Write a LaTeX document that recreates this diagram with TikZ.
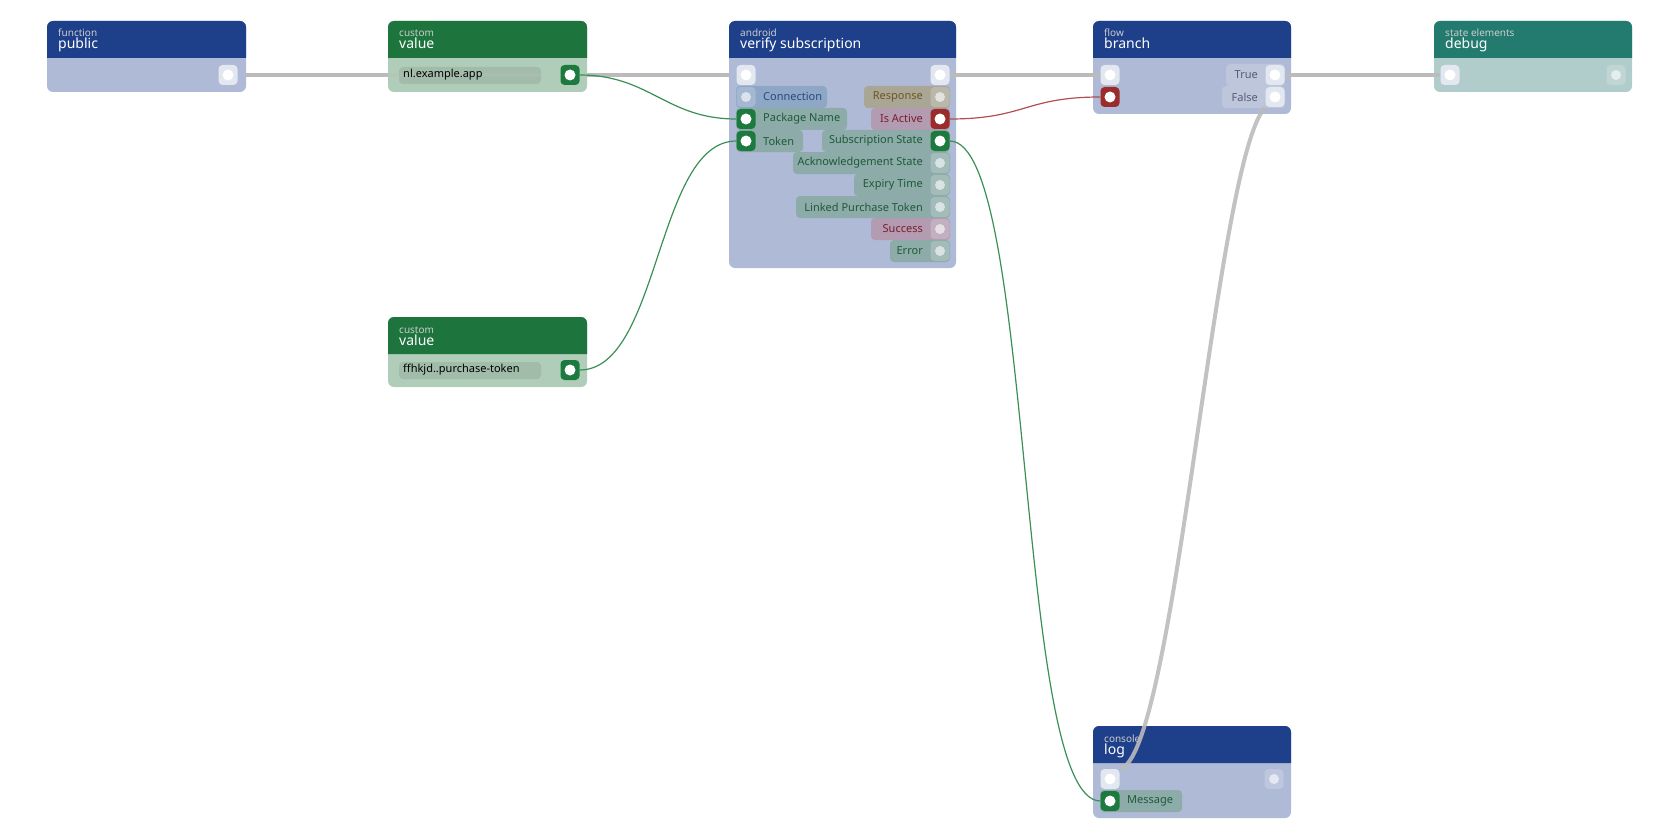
\documentclass[tikz,border=0pt]{standalone}
\usepackage{fontspec}
\setmainfont{Noto Sans}
\begin{document}
\definecolor{hblue}{HTML}{1E3F8A}\definecolor{bblue}{HTML}{AEBAD6}
\definecolor{hgreen}{HTML}{1D753D}\definecolor{bgreen}{HTML}{AFCDB8}
\definecolor{hteal}{HTML}{237B6F}\definecolor{bteal}{HTML}{B0CCCB}
\definecolor{pgreen}{HTML}{1C7A3E}\definecolor{pred}{HTML}{9C2B2B}
\definecolor{cgreen}{HTML}{8DABA8}\definecolor{tgreen}{HTML}{1E5A38}
\definecolor{cblue}{HTML}{8EA7C6}\definecolor{tblue}{HTML}{2B4A7A}
\definecolor{cbrown}{HTML}{A9A696}\definecolor{tbrown}{HTML}{6E5720}
\definecolor{cred}{HTML}{B39BB1}\definecolor{tred}{HTML}{7A1E2C}
\definecolor{cgray}{HTML}{BEC6DC}\definecolor{tgray}{HTML}{555C70}
\definecolor{wport}{HTML}{E3E7F0}
\definecolor{exec}{HTML}{BBBBBB}\definecolor{wgreen}{HTML}{3A8F55}\definecolor{wred}{HTML}{B04E52}
\tikzset{
 port/.style={rectangle,rounded corners=4,minimum width=19pt,minimum height=20pt,inner sep=0pt,fill=#1},
 wport/.style={port=wport,path picture={\fill[white](path picture bounding box.center) circle (5.5);}},
 gport/.style={port=pgreen,path picture={\fill[white](path picture bounding box.center) circle (5.5);}},
 rport/.style={port=pred,path picture={\fill[white](path picture bounding box.center) circle (5.5);}},
 fport/.style={port=white,fill opacity=0.2,path picture={\fill[white,fill opacity=0.6](path picture bounding box.center) circle (5);}},
 lbl/.style={font=\fontsize{11}{12}\selectfont,inner sep=0pt},
 ttl/.style={font=\fontsize{14}{15}\selectfont,text=white,anchor=base west,inner sep=0pt},
 sub/.style={font=\fontsize{10}{11}\selectfont,text=white!80!black,anchor=base west,inner sep=0pt},
 ex/.style={exec,line width=4pt},
 gw/.style={wgreen,line width=1.2pt},
 rw/.style={wred,line width=1.2pt},
}
\newcommand\card[9]{%
 \fill[#7,rounded corners=6] (#1,#2) rectangle (#3,#5);
 \fill[#6] (#1,#4) [rounded corners=6]-- (#1,#2) -- (#3,#2) [sharp corners]-- (#3,#4) -- cycle;
 \node[sub] at (#1+11,#2+16) {#8};
 \node[ttl] at (#1+11,#2+28) {#9};}
\newcommand\lchip[8]{%
 \fill[#5,rounded corners=4] (#2-10,#3-11) rectangle (#4,#3+11);
 \node[#7] (#1) at (#2,#3) {};
 \node[lbl,text=#6,anchor=west] at (#2+17,#3) {#8};}
\newcommand\rchip[8]{%
 \fill[#5,rounded corners=4] (#4,#3-11) rectangle (#2+10,#3+11);
 \node[#7] (#1) at (#2,#3) {};
 \node[lbl,text=#6,anchor=east] at (#2-17,#3) {#8};}
\begin{tikzpicture}[x=1pt,y=-1pt]
\useasboundingbox (0,0) rectangle (1680,840);
\coordinate (pubO) at (228,75);
\coordinate (verIn) at (746,75);
\draw[ex] (pubO) -- (verIn);
\card{47}{21}{246}{58}{92}{hblue}{bblue}{function}{public}
\node[wport] (pubout) at (228,75) {};
\card{388}{21}{587}{58}{92}{hgreen}{bgreen}{custom}{value}
\fill[black,opacity=0.08,rounded corners=4] (399,67) rectangle (541,84);
\draw[exec,line width=4pt,opacity=0.35] (388,75) -- (541,75);
\node[lbl,anchor=west] at (403,75) {nl.example.app};
\node[gport] (v1) at (570,75) {};
\card{388}{317}{587}{354}{387}{hgreen}{bgreen}{custom}{value}
\fill[black,opacity=0.08,rounded corners=4] (399,362) rectangle (541,379);
\node[lbl,anchor=west] at (403,370) {ffhkjd..purchase-token};
\node[gport] (v2) at (570,370) {};
\card{729}{21}{956}{58}{268}{hblue}{bblue}{android}{verify subscription}
\node[wport] (vin) at (746,75) {};
\node[wport] (vout) at (940,75) {};
\lchip{conn}{746}{97}{827}{cblue}{tblue}{fport}{Connection}
\lchip{pkg}{746}{119}{847}{cgreen}{tgreen}{gport}{Package Name}
\lchip{tok}{746}{141}{803}{cgreen}{tgreen}{gport}{Token}
\rchip{resp}{940}{97}{864}{cbrown}{tbrown}{fport}{Response}
\rchip{act}{940}{119}{871}{cred}{tred}{rport}{Is Active}
\rchip{sst}{940}{141}{822}{cgreen}{tgreen}{gport}{Subscription State}
\rchip{ack}{940}{163}{793}{cgreen}{tgreen}{fport}{Acknowledgement State}
\rchip{exp}{940}{185}{854}{cgreen}{tgreen}{fport}{Expiry Time}
\rchip{lpt}{940}{207}{796}{cgreen}{tgreen}{fport}{Linked Purchase Token}
\rchip{suc}{940}{229}{871}{cred}{tred}{fport}{Success}
\rchip{err}{940}{251}{890}{cgreen}{tgreen}{fport}{Error}
\card{1093}{21}{1291}{58}{114}{hblue}{bblue}{flow}{branch}
\node[wport] (bin) at (1110,75) {};
\node[rport] (bcond) at (1110,97) {};
\rchip{btrue}{1275}{75}{1226}{cgray}{tgray}{wport}{True}
\rchip{bfalse}{1275}{97}{1222}{cgray}{tgray}{wport}{False}
\card{1434}{21}{1632}{58}{92}{hteal}{bteal}{state elements}{debug}
\node[wport] (din) at (1450,75) {};
\node[fport] (dout) at (1616,75) {};
\card{1093}{726}{1291}{763}{818}{hblue}{bblue}{console}{log}
\node[wport] (lin) at (1110,779) {};
\node[fport] (lout) at (1274,779) {};
\lchip{msg}{1110}{801}{1182}{cgreen}{tgreen}{gport}{Message}
\draw[ex] (vout) -- (bin);
\draw[ex] (btrue) -- (din);
\draw[ex,opacity=0.9] (bfalse.south west) .. controls (1215,160) and (1175,760) .. (lin.north east);
\draw[gw] (v1.east) .. controls (650,75) and (666,119) .. (pkg.west);
\draw[gw] (v2.east) .. controls (660,370) and (656,141) .. (tok.west);
\draw[rw] (act.east) .. controls (1025,119) and (1025,97) .. (bcond.west);
\draw[gw] (sst.east) .. controls (1035,141) and (1015,801) .. (msg.west);
\end{tikzpicture}
\end{document}
